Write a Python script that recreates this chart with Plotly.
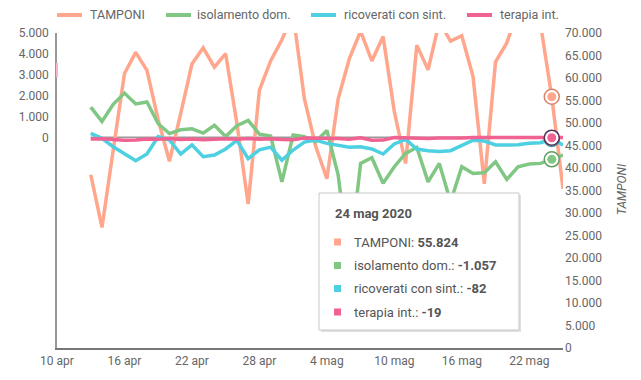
import plotly.graph_objects as go
import pandas as pd

# ---------------- data ----------------
dates = pd.date_range("2020-04-13", "2020-05-25").strftime("%Y-%m-%d").tolist()

tamponi = [38500, 26800, 44000, 61000, 65700, 61700, 50700,
           41500, 52100, 63100, 66700, 62400, 65400, 49900,
           32000, 57300, 63800, 68500, 74200, 55400, 44900,
           37600, 55300, 64300, 70400, 63800, 69200, 52500,
           41000, 67300, 61800, 72500, 68200, 69400, 60300,
           36500, 63600, 67800, 75000, 74000, 72000, 55824,
           35400]

isolamento = [1450, 760, 1580, 2120, 1600, 1690, 650,
              180, 360, 410, 200, 580, 40, 560,
              810, 150, 60, -2135, 110, 30, -210,
              330, -1800, -6000, -1250, -980, -2200, -1410,
              -770, -490, -2135, -1250, -3100, -1410, -1730,
              -1700, -1170, -2020, -1410, -1285, -1250, -1057,
              -850]

ricoverati = [190, -50, -450, -780, -1120, -800, 40,
              -130, -800, -360, -930, -850, -560, -150,
              -1020, -600, -470, -1100, -610, -230, -130,
              -290, -400, -480, -450, -560, -800, -320,
              -100, -560, -640, -680, -640, -380, -140,
              -180, -370, -370, -360, -290, -260, -82,
              -370]

terapia = [-83, -74, -107, -143, -124, -79, -98,
           -62, -102, -87, -117, -94, -71, -93,
           -53, -93, -68, -101, -116, -39, -38,
           -22, -52, -94, -22, -143, -134, -7,
           -28, -47, -59, -38, -47, -33, -13,
           -13, -33, -40, -36, -45, -23, -19,
           -12]

series_names = ["TAMPONI", "isolamento dom.", "ricoverati con sint.", "terapia int."]

x_tickvals = ["2020-04-10", "2020-04-16", "2020-04-22", "2020-04-28",
              "2020-05-04", "2020-05-10", "2020-05-16", "2020-05-22"]
x_ticktext = ["10 apr", "16 apr", "22 apr", "28 apr",
              "4 mag", "10 mag", "16 mag", "22 mag"]
left_tickvals = [0, 1000, 2000, 3000, 4000, 5000]
right_tickvals = list(range(0, 70001, 5000))

hover_date = "2020-05-24"
hover_label = "24 mag 2020"

# ---------------- style ----------------
C_T = "#FFA68C"
C_G = "#81C784"
C_C = "#4DD0E1"
C_P = "#F06292"
RING = {"TAMPONI": "#D9846C", "isolamento dom.": "#5E9E60",
        "ricoverati con sint.": "#3A8FA0", "terapia int.": "#5A2E55"}
TXT = "#666666"
FONT = "Roboto"

# page body has an 8px margin: the figure is drawn offset by OFF
OFF = 8
W, H = 641 - OFF, 380 - OFF
PX0, PX1, PY0, PY1 = 57, 563, 33, 348          # plot area in window pixels
L, R = PX0 - OFF, W - (PX1 - OFF)
T, B = PY0 - OFF, H - (PY1 - OFF)
PW, PH = PX1 - PX0, PY1 - PY0


def xp(px):
    return (px - PX0) / PW


def yp(py):
    return (PY1 - py) / PH


fig = go.Figure()

fig.add_trace(go.Scatter(x=dates, y=tamponi, name=series_names[0], mode="lines",
                         line=dict(color=C_T, width=3.5), yaxis="y", hoverinfo="skip"))
for vals, col, nm in [(isolamento, C_G, series_names[1]),
                      (ricoverati, C_C, series_names[2]),
                      (terapia, C_P, series_names[3])]:
    fig.add_trace(go.Scatter(x=dates, y=vals, name=nm, mode="lines",
                             line=dict(color=col, width=3.5), yaxis="y2",
                             hoverinfo="skip"))

# hover markers at the highlighted date
hi = dates.index(hover_date)
for vals, col, nm, ax in [(tamponi, C_T, series_names[0], "y"),
                          (isolamento, C_G, series_names[1], "y2"),
                          (ricoverati, C_C, series_names[2], "y2"),
                          (terapia, C_P, series_names[3], "y2")]:
    fig.add_trace(go.Scatter(x=[dates[hi]], y=[vals[hi]], mode="markers", yaxis=ax,
                             marker=dict(size=15, color="white",
                                         line=dict(color=RING[nm], width=1.5)),
                             hoverinfo="skip", showlegend=False))
    fig.add_trace(go.Scatter(x=[dates[hi]], y=[vals[hi]], mode="markers", yaxis=ax,
                             marker=dict(size=9, color=col, line=dict(width=0)),
                             hoverinfo="skip", showlegend=False))

shapes = []
annotations = []

# zero line of the left axis, spanning the data
shapes.append(dict(type="line", xref="x", yref="y2", x0=dates[0], x1=dates[-1],
                   y0=0, y1=0, line=dict(color="#9a9a9a", width=1.5), layer="below"))
# small pink mark on left axis
shapes.append(dict(type="line", xref="paper", yref="paper", x0=xp(57), x1=xp(57),
                   y0=yp(63), y1=yp(77), line=dict(color="#F8B4CB", width=2)))

# custom legend
legend_items = [(series_names[0], C_T, 57, 88),
                (series_names[1], C_G, 166, 195),
                (series_names[2], C_C, 311, 342),
                (series_names[3], C_P, 467, 498)]
for nm, col, lx, tx in legend_items:
    shapes.append(dict(type="line", xref="paper", yref="paper",
                       x0=xp(lx), x1=xp(lx + 25), y0=yp(15), y1=yp(15),
                       line=dict(color=col, width=4)))
    annotations.append(dict(xref="paper", yref="paper", x=xp(tx), y=yp(15),
                            text=nm, showarrow=False, xanchor="left", yanchor="middle",
                            font=dict(family=FONT, size=12.5, color=TXT)))

# right axis title
annotations.append(dict(xref="paper", yref="paper", x=xp(622), y=yp(189),
                        text="TAMPONI", textangle=-90, showarrow=False,
                        xanchor="center", yanchor="middle",
                        font=dict(family=FONT, size=12, color=TXT, style="italic")))

# tooltip box
bx0, bx1, by0, by1 = 319, 519, 193, 330
shapes.append(dict(type="rect", xref="paper", yref="paper",
                   x0=xp(bx0 + 2), x1=xp(bx1 + 2), y0=yp(by0 + 2), y1=yp(by1 + 2),
                   fillcolor="rgba(0,0,0,0.12)", line=dict(width=0)))
shapes.append(dict(type="rect", xref="paper", yref="paper",
                   x0=xp(bx0), x1=xp(bx1), y0=yp(by0), y1=yp(by1),
                   fillcolor="white", line=dict(color="#c8c8c8", width=1)))
annotations.append(dict(xref="paper", yref="paper", x=xp(333), y=yp(213),
                        text="<b>" + hover_label + "</b>", showarrow=False,
                        xanchor="left", yanchor="middle",
                        font=dict(family=FONT, size=13, color="#555555")))


def fmt(v):
    s = f"{abs(v):,}".replace(",", ".")
    return ("-" if v < 0 else "") + s


rows_y = [242, 265.5, 288.5, 312]
for (vals, col, nm), ry in zip([(tamponi, C_T, series_names[0]),
                                (isolamento, C_G, series_names[1]),
                                (ricoverati, C_C, series_names[2]),
                                (terapia, C_P, series_names[3])], rows_y):
    shapes.append(dict(type="rect", xref="paper", yref="paper",
                       x0=xp(334), x1=xp(341), y0=yp(ry - 3.5), y1=yp(ry + 3.5),
                       fillcolor=col, line=dict(width=0)))
    annotations.append(dict(xref="paper", yref="paper", x=xp(352), y=yp(ry),
                            text=nm + ": <b>" + fmt(vals[hi]) + "</b>",
                            showarrow=False, xanchor="left", yanchor="middle",
                            font=dict(family=FONT, size=13, color="#555555")))

fig.update_layout(
    width=W, height=H,
    margin=dict(l=L, r=R, t=T, b=B, pad=0, autoexpand=False),
    paper_bgcolor="white", plot_bgcolor="white",
    showlegend=False,
    separators=",.",
    font=dict(family=FONT, size=12, color=TXT),
    xaxis=dict(type="date", range=["2020-04-10", "2020-05-25"],
               tickvals=x_tickvals, ticktext=x_ticktext,
               showgrid=False, zeroline=False, showline=True,
               linecolor="#777777", linewidth=1.5, ticks="",
               tickfont=dict(family=FONT, size=12, color=TXT),
               ticklabelstandoff=1, automargin=False),
    yaxis=dict(side="right", range=[0, 70000], tickvals=right_tickvals,
               tickformat=",d", showgrid=False, zeroline=False, showline=False,
               ticks="", tickfont=dict(family=FONT, size=12, color=TXT),
               ticklabelstandoff=1, automargin=False),
    yaxis2=dict(overlaying="y", side="left", anchor="x", range=[-10100, 5000],
                tickvals=left_tickvals, tickformat=",d", showgrid=False,
                zeroline=False, showline=True, linecolor="#999999", linewidth=1.5,
                ticks="", tickfont=dict(family=FONT, size=12, color=TXT),
                ticklabelstandoff=4, automargin=False),
    shapes=shapes,
    annotations=annotations,
)

fig.write_html("out.html")
